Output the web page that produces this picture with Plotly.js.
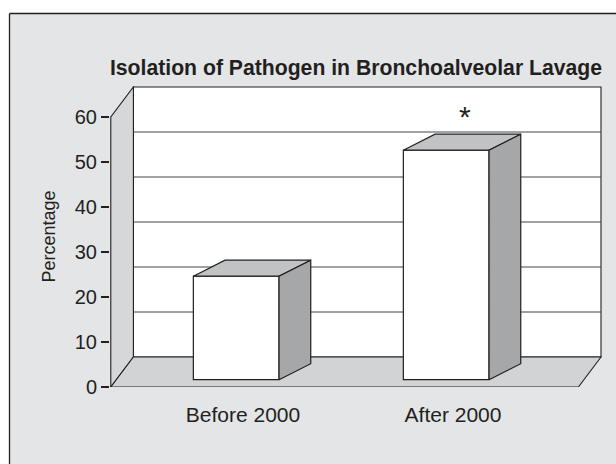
<!DOCTYPE html>
<html><head><meta charset="utf-8">
<script src="https://cdn.plot.ly/plotly-3.0.1.min.js"></script>
<style>html,body{margin:0;padding:0;background:#fff;overflow:hidden}#chart{width:616px;height:464px}</style>
</head><body><div id="chart"></div>
<script>
// ---- data ----
const categories = ['Before 2000', 'After 2000'];
const percentages = [23, 51];
const significance = ['', '*'];
const yTickValues = [0, 10, 20, 30, 40, 50, 60];
const chartTitle = 'Isolation of Pathogen in Bronchoalveolar Lavage';
const yAxisTitle = 'Percentage';

// ---- geometry / style constants (pixels) ----
const W = 616, H = 464;
const M = {l: 110, r: 14, t: 86, b: 77, pad: 0};
const pxX = 210;          // pixels per category step
const pxY = 4.5;          // pixels per percentage unit
const cat0Px = 236.2;     // pixel position of first category (bar front centre)
const plotW = W - M.l - M.r, plotH = H - M.t - M.b;
const xRange = [(M.l - cat0Px) / pxX, (W - M.r - cat0Px) / pxX];
const yRange = [0, plotH / pxY];
const toX = px => (px - cat0Px) / pxX;

const wallLeft = toX(110.8), wallRight = toX(601);
const wallDx = 22.6 / pxX, wallDy = 30 / pxY;
const yTop = yTickValues[yTickValues.length - 1];
const barW = 85.7 / pxX, barBase = 7.3 / pxY;
const barDx = 31.7 / pxX, barDy = 16 / pxY;
const labelDx = 6.8 / pxX;
const starDx = 18.8 / pxX;

const ink = '#231f20';
const colBg = '#e4e5e7', colLeftWall = '#d6d7d9', colFloor = '#d2d3d5';
const colSide = '#a6a7a9', colTop = '#c1c2c4';

const idx = categories.map((_, i) => i);

// ---- traces ----
const traces = [];
traces.push({
  type: 'bar', x: idx, y: percentages, base: barBase, width: barW,
  marker: {color: '#ffffff', line: {color: ink, width: 1.2}},
  hoverinfo: 'skip'
});
percentages.forEach((v, i) => {
  const L = i - barW / 2, R = i + barW / 2, top = barBase + v;
  traces.push({
    type: 'scatter', mode: 'lines', fill: 'toself', fillcolor: colTop,
    x: [L, R, R + barDx, L + barDx, L],
    y: [top, top, top + barDy, top + barDy, top],
    line: {color: ink, width: 1.2}, hoverinfo: 'skip'
  });
  traces.push({
    type: 'scatter', mode: 'lines', fill: 'toself', fillcolor: colSide,
    x: [R, R + barDx, R + barDx, R, R],
    y: [barBase, barBase + barDy, top + barDy, top, barBase],
    line: {color: ink, width: 1.2}, hoverinfo: 'skip'
  });
});

// ---- shapes: frame, walls, back-wall gridlines ----
const toPaperX = px => (px - M.l) / plotW;
const toPaperY = py => (H - M.b - py) / plotH;
const path = pts => 'M' + pts.map(p => p[0] + ',' + p[1]).join(' L') + ' Z';
const frameX = 9.5, frameY = 13.5;
const shapes = [
  {type: 'rect', xref: 'paper', yref: 'paper', layer: 'below',
   x0: toPaperX(-2), x1: toPaperX(W + 2), y0: toPaperY(frameY), y1: toPaperY(-2),
   fillcolor: '#ffffff', line: {width: 0}},
  {type: 'rect', xref: 'paper', yref: 'paper', layer: 'below',
   x0: toPaperX(-2), x1: toPaperX(frameX), y0: toPaperY(H + 2), y1: toPaperY(-2),
   fillcolor: '#ffffff', line: {width: 0}},
  {type: 'line', xref: 'paper', yref: 'paper', layer: 'below',
   x0: toPaperX(frameX), x1: toPaperX(W + 2), y0: toPaperY(frameY), y1: toPaperY(frameY),
   line: {color: ink, width: 1.3}},
  {type: 'line', xref: 'paper', yref: 'paper', layer: 'below',
   x0: toPaperX(frameX), x1: toPaperX(frameX), y0: toPaperY(frameY), y1: toPaperY(H + 2),
   line: {color: ink, width: 1.3}},
  {type: 'path', xref: 'x', yref: 'y', layer: 'below', fillcolor: '#ffffff',
   line: {color: ink, width: 1.1},
   path: path([[wallLeft + wallDx, wallDy], [wallRight, wallDy], [wallRight, yTop + wallDy], [wallLeft + wallDx, yTop + wallDy]])},
  {type: 'path', xref: 'x', yref: 'y', layer: 'below', fillcolor: colLeftWall,
   line: {color: ink, width: 1.1},
   path: path([[wallLeft, 0], [wallLeft + wallDx, wallDy], [wallLeft + wallDx, yTop + wallDy], [wallLeft, yTop]])},
  {type: 'path', xref: 'x', yref: 'y', layer: 'below', fillcolor: colFloor,
   line: {color: ink, width: 1.1},
   path: path([[wallLeft, 0], [wallRight - wallDx, 0], [wallRight, wallDy], [wallLeft + wallDx, wallDy]])}
];
yTickValues.slice(1, -1).forEach(t => {
  shapes.push({type: 'line', xref: 'x', yref: 'y', layer: 'below',
    x0: wallLeft + wallDx, x1: wallRight, y0: t + wallDy, y1: t + wallDy,
    line: {color: '#444444', width: 1}});
});

const annotations = significance.map((s, i) => ({
  x: i + starDx, y: barBase + percentages[i] + barDy, xref: 'x', yref: 'y',
  text: s, showarrow: false, yanchor: 'middle', yshift: 18,
  font: {size: 30, color: ink}
})).filter(a => a.text);

const layout = {
  width: W, height: H, margin: M,
  paper_bgcolor: colBg, plot_bgcolor: 'rgba(0,0,0,0)',
  showlegend: false, bargap: 0,
  font: {family: '"Liberation Sans", Arial, sans-serif', color: ink},
  title: {text: '<b>' + chartTitle + '</b>', font: {size: 21.2, color: ink},
    x: 0.5, xref: 'paper', xanchor: 'center', y: 1 - 67.7 / H, yref: 'container', yanchor: 'middle'},
  xaxis: {range: xRange, tickvals: idx.map(i => i + labelDx), ticktext: categories,
    ticks: 'outside', ticklen: 9, tickcolor: 'rgba(0,0,0,0)',
    showgrid: false, zeroline: false, showline: false, fixedrange: true,
    tickfont: {size: 21, color: ink}},
  yaxis: {range: yRange, tickvals: yTickValues, ticks: 'outside', ticklen: 8, tickwidth: 1.2,
    tickcolor: ink, showgrid: false, zeroline: false, showline: false, fixedrange: true,
    tickfont: {size: 20, color: ink}, automargin: true,
    title: {text: yAxisTitle, font: {size: 18, color: ink}, standoff: 14}},
  shapes: shapes, annotations: annotations
};

Plotly.newPlot('chart', traces, layout, {staticPlot: true, displayModeBar: false});
</script></body></html>
